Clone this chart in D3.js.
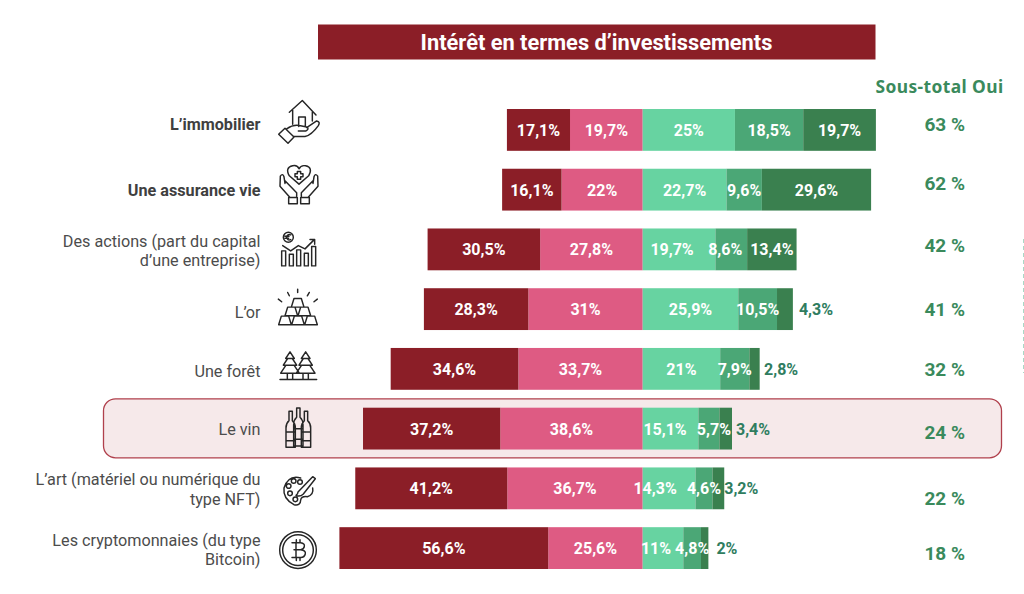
<!DOCTYPE html>
<html><head><meta charset="utf-8">
<script src="https://cdn.jsdelivr.net/npm/d3@7/dist/d3.min.js"></script>
<style>html,body{margin:0;padding:0;background:#fff}svg{display:block}text{font-family:Roboto,sans-serif}</style>
</head><body><svg id="c" width="1024" height="594"></svg>
<script>
const categories=["L’immobilier","Une assurance vie","Des actions (part du capital|d’une entreprise)","L’or","Une forêt","Le vin","L’art (matériel ou numérique du|type NFT)","Les cryptomonnaies (du type|Bitcoin)"];
const nonPasDuTout=[17.1,16.1,30.5,28.3,34.6,37.2,41.2,56.6];
const plutotNon=[19.7,22,27.8,31,33.7,38.6,36.7,25.6];
const plutotOui=[25,22.7,19.7,25.9,21,15.1,14.3,11];
const oui=[18.5,9.6,8.6,10.5,7.9,5.7,4.6,4.8];
const ouiTout=[19.7,29.6,13.4,4.3,2.8,3.4,3.2,2];
const sousTotal=[63,62,42,41,32,24,22,18];
const boldRows=[0,1];
const highlightRow=5;

// layout only
const W=1024,H=594;
const colors={plutotNon:"#de5b83",nonPasDuTout:"#8b1e27",plutotOui:"#67d3a1",oui:"#4ba776",ouiTout:"#3a804f"};
const labelDy=[-5,0.5,1.5,3,2.5,0.7,1,2];
const totalDy=[-6,-6,-4,0,0.6,3.4,10,5.5];
const iconDy=[-35,-29.5,-24.5,-24,-23.7,-25.3,-23,-23];
const nudge={plutotOui:[0,0,-7,0,0,-5.5,-14,-7],oui:[0,0,-6,0,0,5,0,0]};
const outerGap=[0,0,0,6,4.4,4,0,8];

const svg=d3.select("#c");
const x=d3.scaleLinear().domain([-82.2,63.2]).range([339.4,875.9]);
const y=d3.scaleBand().domain(d3.range(categories.length)).range([109,569]).paddingInner(0.3).paddingOuter(0);
const rows=categories.map((c,i)=>({i,nonPasDuTout:-nonPasDuTout[i],plutotNon:-plutotNon[i],plutotOui:plutotOui[i],oui:oui[i],ouiTout:ouiTout[i]}));
const keys=["plutotNon","nonPasDuTout","plutotOui","oui","ouiTout"];
const stacked=d3.stack().keys(keys).offset(d3.stackOffsetDiverging)(rows);
const fmt=v=>String(Math.abs(v)).replace(".",",")+"%";

// faint dashed rule at the right edge
svg.append("line").attr("x1",1023.5).attr("x2",1023.5).attr("y1",239).attr("y2",373).attr("stroke","#a9d8c6").attr("stroke-width",1).attr("stroke-dasharray","4 3");

// title
svg.append("rect").attr("x",318).attr("y",24.5).attr("width",557.5).attr("height",35).attr("fill","#8b1e27");
svg.append("text").attr("x",596.5).attr("y",49.5).attr("text-anchor","middle").attr("fill","#fff").attr("font-size",21.8).attr("font-weight",700).text("Intérêt en termes d’investissements");
svg.append("text").attr("x",939.5).attr("y",93).attr("text-anchor","middle").attr("fill","#3a8a5c").attr("font-size",17.4).attr("font-weight",700).style("font-family","'Noto Sans'").style("letter-spacing","0.4px").text("Sous-total Oui");

// highlight
const hc=y(highlightRow)+y.bandwidth()/2;
svg.append("rect").attr("x",103.5).attr("y",hc-29.8).attr("width",898).attr("height",59).attr("rx",12).attr("fill","#f6e9ea").attr("stroke","#b0404c").attr("stroke-width",1.3);

// bars
svg.append("g").selectAll("g").data(stacked).join("g").attr("fill",d=>colors[d.key])
 .selectAll("rect").data(d=>d).join("rect")
 .attr("x",d=>x(d[0])).attr("width",d=>x(d[1])-x(d[0])).attr("y",d=>y(d.data.i)).attr("height",y.bandwidth());

// bar labels
stacked.forEach(s=>{
  s.forEach(d=>{
    const i=d.data.i,v=d.data[s.key];
    const outside=s.key==="ouiTout"&&v<=4.3;
    const t=svg.append("text").attr("y",y(i)+y.bandwidth()/2+6).attr("font-size",16).attr("font-weight",700).text(fmt(v));
    if(outside){
      t.attr("x",x(d[1])+outerGap[i]).attr("fill","#2f7d5f").attr("text-anchor","start");
    }else{
      const dx=(nudge[s.key]||[])[i]||0;
      t.attr("x",(x(d[0])+x(d[1]))/2+dx).attr("fill","#fff").attr("text-anchor","middle");
    }
  });
});

// category labels
categories.forEach((c,i)=>{
  const cy=y(i)+y.bandwidth()/2+labelDy[i];
  const lines=c.split("|");
  const t=svg.append("text").attr("text-anchor","end").attr("fill",boldRows.includes(i)?"#3f3f3f":"#4c4c4c").attr("font-size",16.2).attr("font-weight",boldRows.includes(i)?700:400);
  lines.forEach((l,k)=>t.append("tspan").attr("x",260.5).attr("y",cy+5.5+(k-(lines.length-1)/2)*19.5).text(l));
});

// sous-total
sousTotal.forEach((v,i)=>{
  svg.append("text").attr("x",944.7).attr("y",y(i)+y.bandwidth()/2+totalDy[i]+6.8).attr("text-anchor","middle").attr("fill","#3a8a5c").attr("font-size",19).attr("font-weight",700).text(v+" %");
});

// icons, drawn in a 180x150 box
const tree=cx=>`M${cx},20 L${cx-13},40 L${cx-7},40 L${cx-20},60 L${cx-12},60 L${cx-28},84 L${cx+28},84 L${cx+12},60 L${cx+20},60 L${cx+7},40 L${cx+13},40 Z M${cx-8},84 V102 M${cx+8},84 V102 M${cx-8},40 H${cx+8} M${cx-12},60 H${cx+12}`;
const bottle=(cx,top,bot)=>`M${cx-5},${top} H${cx+5} V${top+28} Q${cx+14},${top+36} ${cx+14},${top+50} V${bot} H${cx-14} V${top+50} Q${cx-14},${top+36} ${cx-5},${top+28} Z M${cx-14},${top+62} H${cx+14} M${cx-14},${bot-20} H${cx+14}`;
const bar3=(x0,yy)=>`M${x0+8},${yy} H${x0+30} L${x0+38},${yy+26} H${x0} Z`;
const icons=[
 "M58,52 L97,17 L138,60 M68,45 V88 M127,52 V78 M86,95 V66 H106 V95 M26,118 L45,100 L72,126 L54,145 Z M50,102 Q70,88 88,92 L110,96 Q119,102 108,108 H85 M110,98 L140,78 Q152,80 145,92 Q125,120 105,125 H72",
 "M87,72 L58,47 Q44,22 68,17 Q82,14 87,26 Q93,14 107,17 Q130,22 116,47 Z M82,34 H92 V41 H99 V50 H92 V57 H82 V50 H75 V41 H82 Z M60,112 L30,78 L31,48 Q38,38 42,50 L45,70 M45,62 L80,98 V112 M56,112 H82 V131 H56 Z M114,112 L144,78 L143,48 Q136,38 132,50 L129,70 M129,62 L94,98 V112 M92,112 H118 V131 H92 Z",
 "M70,37 A15,15 0 1 1 40,37 A15,15 0 1 1 70,37 Z M62,30 Q52,26 50,37 Q52,48 62,44 M45,34 H57 M45,40 H56 M38,62 L62,78 L85,62 L105,72 L132,45 M120,44 H134 V58 M35,78 H47 V123 H35 Z M58,88 H70 V123 H58 Z M80,75 H92 V123 H80 Z M103,85 H115 V123 H103 Z M125,65 H137 V123 H125 Z",
 bar3(64,40)+bar3(45,66)+bar3(84,66)+bar3(26,93)+bar3(65,93)+bar3(104,93)+"M83,12 V22 M53,22 L58,32 M118,22 L112,32 M25,42 L35,50 M142,42 L132,50",
 tree(60)+tree(107)+"M30,103 H140",
 bottle(85,14,128)+bottle(62,24,132)+bottle(108,24,132),
 "M92,38 Q55,28 42,68 Q38,100 72,118 Q92,122 92,104 Q94,92 112,94 Q132,88 128,68 M84,80 L128,34 L136,40 L100,86 Q90,96 78,90 Q84,86 84,80 Z M71,47 m-7,0 a7,7 0 1 0 14,0 a7,7 0 1 0 -14,0 M56,62 m-7,0 a7,7 0 1 0 14,0 a7,7 0 1 0 -14,0 M60,84 m-7,0 a7,7 0 1 0 14,0 a7,7 0 1 0 -14,0 M76,102 m-7,0 a7,7 0 1 0 14,0 a7,7 0 1 0 -14,0 M90,50 m-7,0 a7,7 0 1 0 14,0 a7,7 0 1 0 -14,0",
 "M139,75 A55,55 0 1 1 29,75 A55,55 0 1 1 139,75 Z M130,75 A46,46 0 1 1 38,75 A46,46 0 1 1 130,75 Z M72,53 H92 Q105,55 103,64 Q102,72 92,74 H72 M92,74 Q108,76 106,86 Q104,97 92,97 H66 M66,53 H78 M78,53 V97 M79,44 V53 M90,44 V53 M79,97 V106 M90,97 V106"
];
const ig=svg.append("g").attr("fill","none").attr("stroke","#262626").attr("stroke-width",4.4).attr("stroke-linejoin","round").attr("stroke-linecap","round");
icons.forEach((p,i)=>{
  ig.append("path").attr("transform",`translate(270,${y(i)+y.bandwidth()/2+iconDy[i]}) scale(${1/3})`).attr("d",p);
});
</script></body></html>
